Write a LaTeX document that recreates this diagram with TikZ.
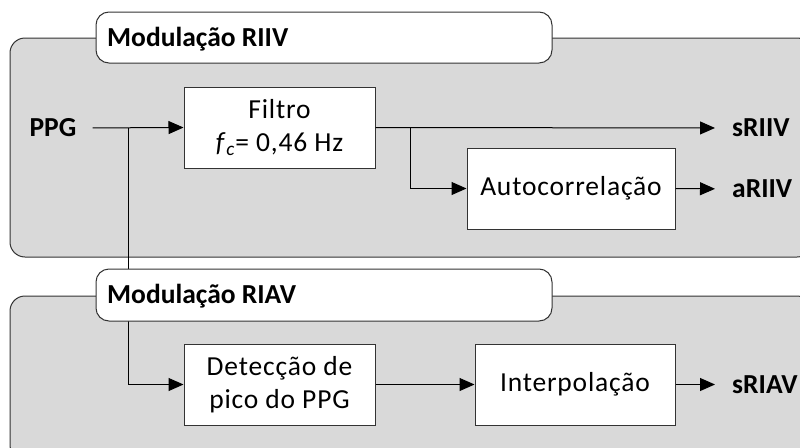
\documentclass[tikz,border=0pt]{standalone}
\usepackage{fontspec}
\setmainfont{Carlito}[LetterSpace=3, BoldFeatures={LetterSpace=0}]
\usetikzlibrary{arrows.meta}
\definecolor{panelgray}{HTML}{D9D9D9}
\definecolor{edge}{HTML}{333333}
\newcommand\diagfont{\fontsize{27.5}{33}\selectfont}
\tikzset{
  panel/.style={draw=edge, line width=1pt, fill=panelgray, rounded corners=15pt},
  tab/.style={draw=edge, line width=1pt, fill=white, rounded corners=13pt},
  blockbox/.style={draw=edge, line width=1pt, fill=white, align=center, inner sep=0pt, font=\diagfont},
  io/.style={font=\diagfont\bfseries, inner sep=0pt},
  title/.style={font=\diagfont\bfseries, inner sep=0pt, anchor=base west},
  flow/.style={line width=1pt, -{Triangle[length=15pt,width=13pt]}},
  wire/.style={line width=1pt}
}
\begin{document}
\begin{tikzpicture}[x=1pt,y=-1pt]
\useasboundingbox (0,0) rectangle (800,447);
\clip (0,0) rectangle (800,447);

% grey group panels
\draw[panel] (10,38) rectangle (812,257);
\draw[panel] (10,296) rectangle (812,460);

% processing blocks
\node[blockbox, minimum width=191pt, minimum height=81pt] (filt) at (279.5,127.5)
  {\raisebox{-2pt}{Filtro}\\\raisebox{-2pt}{\textit{f}\textsubscript{\textit{c}}= 0,46 Hz}};
\node[blockbox, minimum width=208pt, minimum height=81pt] (auto) at (571,188.5)
  {Autocorrelação};
\node[blockbox, minimum width=191pt, minimum height=81pt] (det) at (279.5,384.5)
  {Detecção de\\pico do PPG};
\node[blockbox, minimum width=200pt, minimum height=81pt] (interp) at (575,384.5)
  {Interpolação};

% inputs and outputs
\node[io] (ppg) at (53,128) {PPG};
\node[io, anchor=west] (sriiv) at (732,128) {sRIIV};
\node[io, anchor=west] (ariiv) at (732,189) {aRIIV};
\node[io, anchor=west] (sriav) at (732,384.5) {sRIAV};

\coordinate (jin) at (128,128);
\coordinate (jout) at (410,128);

% signal flow
\draw[flow, shorten <=16pt] (ppg.east) -- (filt.west);
\draw[flow] (jin) |- (det.west);
\draw[flow, shorten >=17pt] (filt.east) -- (sriiv.west);
\draw[flow] (jout) |- (auto.west);
\draw[flow, shorten >=17pt] (auto.east) -- (ariiv.west);
\draw[flow] (det.east) -- (interp.west);
\draw[flow, shorten >=17pt] (interp.east) -- (sriav.west);

% title tabs (the lower one sits over the PPG branch)
\draw[tab] (96,12) rectangle (552,63);
\node[title] (tta) at (107,46.5) {Modulação RIIV};
\draw[tab] (96,269) rectangle (552,321);
\node[title] (ttb) at (107,303.5) {Modulação RIAV};
\end{tikzpicture}
\end{document}
